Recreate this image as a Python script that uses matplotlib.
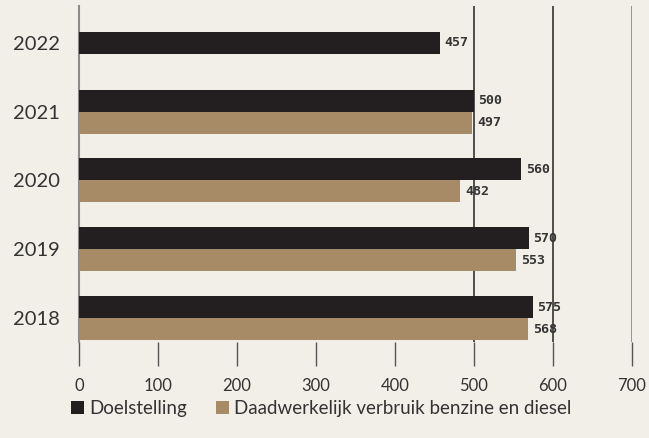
import matplotlib
matplotlib.use("Agg")
import matplotlib.pyplot as plt
from matplotlib.patches import Patch
import numpy as np

years = ["2018", "2019", "2020", "2021", "2022"]
doelstelling = [575, 570, 560, 500, 457]
verbruik = [568, 553, 482, 497, None]
xticks = [0, 100, 200, 300, 400, 500, 600, 700]
legend_labels = ["Doelstelling", "Daadwerkelijk verbruik benzine en diesel"]

BG = "#f2efe9"
DARK = "#231f20"
TAN = "#a68b66"
TXT = "#333333"

fig = plt.figure(figsize=(6.49, 4.38), dpi=100, facecolor=BG)
ax = fig.add_axes([79/649, 1-342/438, (632-79)/649, 336/438])
ax.set_facecolor(BG)

h = 0.32
pos = np.arange(len(years))
lab_kw = dict(va="center", ha="left", fontsize=9.5, family="DejaVu Sans Mono",
              color=TXT, zorder=4, fontweight="bold")
for i, (d, v) in enumerate(zip(doelstelling, verbruik)):
    if v is None:
        yd = pos[i]
    else:
        yd = pos[i] + h/2
        yv = pos[i] - h/2
        ax.barh(yv, v, height=h, color=TAN, zorder=3)
        ax.annotate(str(v), (v, yv), xytext=(4, 0), textcoords="offset points", **lab_kw)
    ax.barh(yd, d, height=h, color=DARK, zorder=3)
    ax.annotate(str(d), (d, yd), xytext=(3, 0), textcoords="offset points", **lab_kw)

for g, c, lw in [(500, "#333333", 1.2), (600, "#333333", 1.2), (700, "#8c8c8c", 2.0)]:
    ax.axvline(g, color=c, lw=lw, zorder=0.5)

ax.set_xlim(0, 700)
ax.set_ylim(-0.349, 4.538)
ax.set_xticks(xticks)
ax.set_xticklabels([str(t) for t in xticks], fontsize=12, family="Lato", color=TXT)
ax.set_yticks(pos)
ax.set_yticklabels(years, fontsize=14.5, family="Lato", color=TXT)
ax.tick_params(axis="x", length=17, width=1, color="#555555", pad=9)
ax.tick_params(axis="y", length=0, pad=14)
for s in ["top", "right", "bottom"]:
    ax.spines[s].set_visible(False)
ax.spines["left"].set_color("#8c8c8c")
ax.spines["left"].set_linewidth(1.5)

handles = [Patch(facecolor=DARK, edgecolor="none"), Patch(facecolor=TAN, edgecolor="none")]
fig.legend(handles, legend_labels, loc="center", bbox_to_anchor=(0.495, 0.068), ncol=2,
           frameon=False, prop={"family": "Lato", "size": 13.5},
           handlelength=0.7, handleheight=0.7, handletextpad=0.3, columnspacing=1.5,
           labelcolor=TXT)

fig.savefig("out.png", dpi=100, facecolor=BG)
